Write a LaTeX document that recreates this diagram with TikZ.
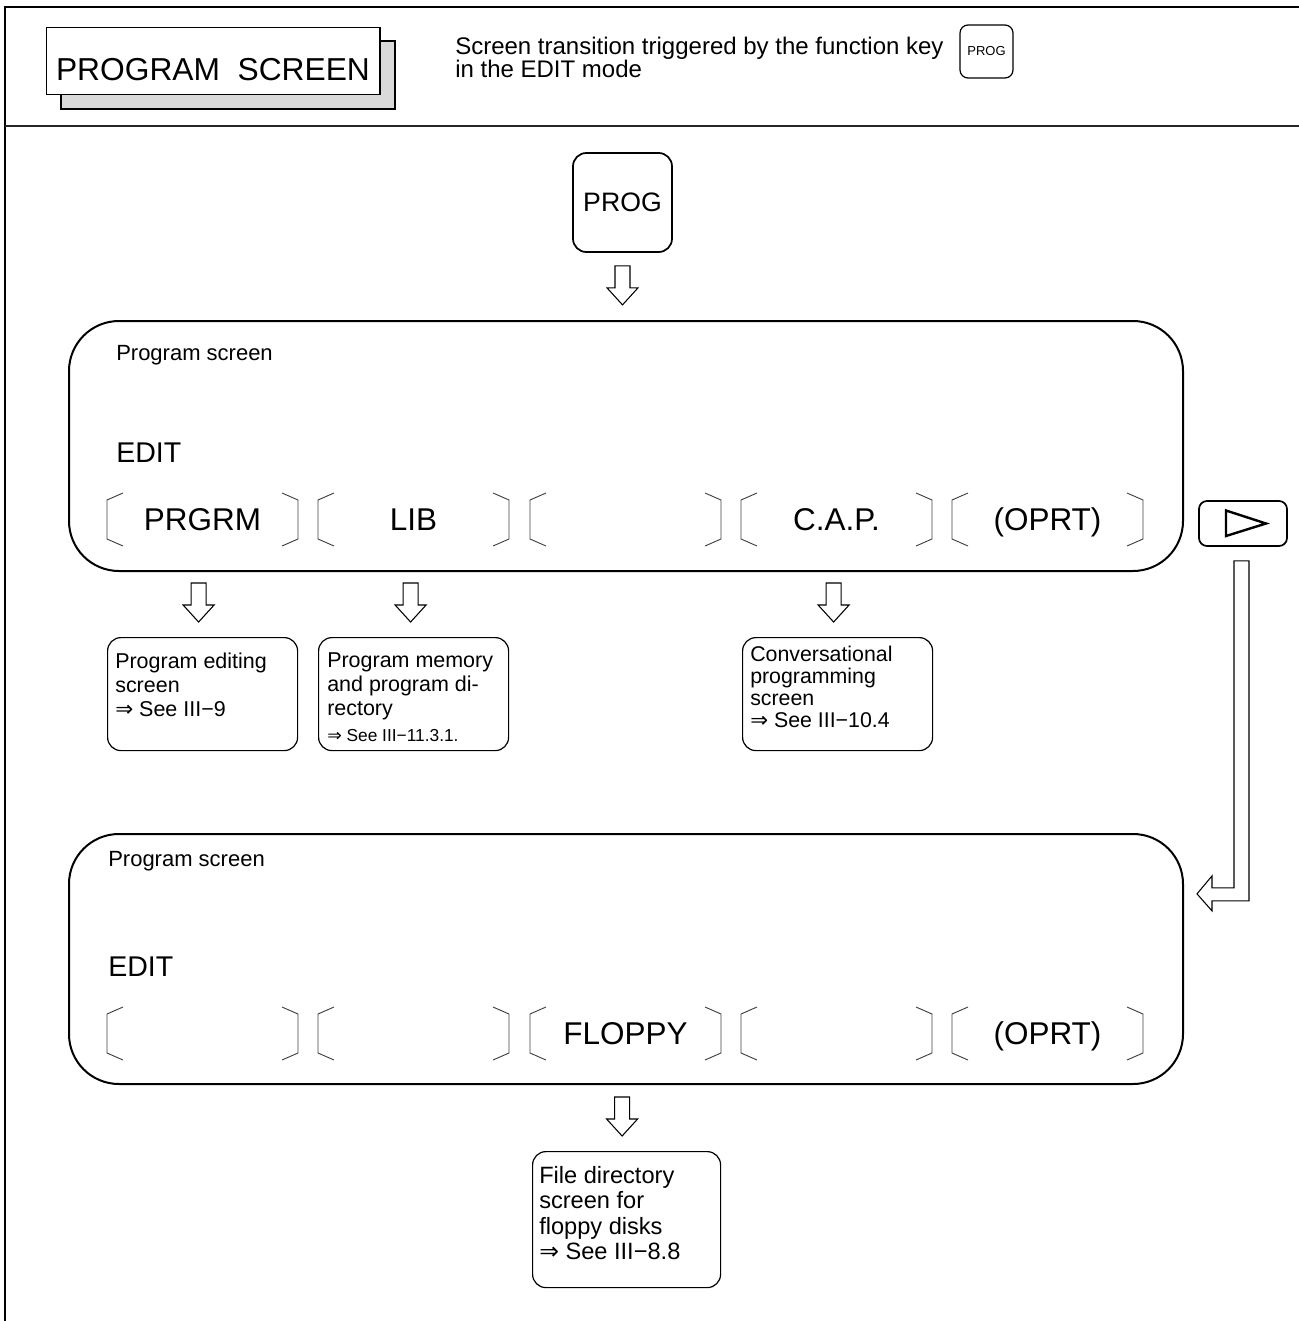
\documentclass[tikz,border=0pt]{standalone}
\usepackage{fontspec}
\setmainfont{Liberation Sans}
\newfontfamily\symfont{DejaVu Sans}
\usetikzlibrary{calc}
\newcommand{\fs}[2]{\fontsize{#1}{#2}\selectfont}
\newcommand{\impl}{{\symfont ⇒}}
\newcommand{\softkey}[4]{%
  \draw[bracket] (#2+16,#3) -- (#2,#3+7) -- (#2,#3+46) -- (#2+16,#3+53);
  \draw[bracket] (#2+175,#3) -- (#2+191,#3+7) -- (#2+191,#3+46) -- (#2+175,#3+53);
  \node[keylabel] (#1) at (#2+95.5,#3+37.5) {#4};}
\begin{document}
\begin{tikzpicture}[x=0.75pt,y=-0.75pt,
  frameline/.style={line width=1.9pt, black},
  bracket/.style={line width=0.7pt, black!75},
  keylabel/.style={anchor=base, inner sep=0, font=\fs{23.6}{26}},
  screen/.style={draw, line width=1.5pt, rounded corners=37.5pt, minimum width=835.5pt, minimum height=187.5pt, anchor=north west, inner sep=0},
  infobox/.style={draw, line width=0.9pt, rounded corners=10pt, minimum width=142.5pt, minimum height=84.75pt, anchor=north west, inner sep=0},
  tx/.style={anchor=north west, inner sep=0, align=left},
  scrtext/.style={anchor=base west, inner sep=0, font=\fs{16.5}{18}},
  edittext/.style={anchor=base west, inner sep=0, font=\fs{21.4}{24}},
  arrowline/.style={draw, line width=0.8pt, black, fill=white},
  darrow/.pic={\path[arrowline] (-7.5,0) -- (7.5,0) -- (7.5,22) -- (15.5,22) -- (0,39) -- (-15.5,22) -- (-7.5,22) -- cycle;}
]
\useasboundingbox (0,0) rectangle (1299,1321);

% frame
\draw[frameline] (4,7) -- (1299,7);
\draw[frameline] (5,6) -- (5,1321);
\draw[line width=1.4pt, black!85] (5,126) -- (1299,126);

% title
\draw[line width=0.9pt, fill=black!15] (61,41) rectangle (395,109);
\node[draw, fill=white, line width=0.9pt, anchor=north west, minimum width=250pt, minimum height=50.25pt, inner sep=0] (title) at (46,27) {};
\node[anchor=base, inner sep=0, font=\fs{23.8}{26}] (titletext) at (213,80) {PROGRAM\ \ SCREEN};

\node[tx, font=\fs{18}{17.25}] (desc) at (455,37) {Screen transition triggered by the function key\\in the EDIT mode};
\node[draw, line width=0.9pt, rounded corners=6pt, minimum width=39.75pt, minimum height=39.75pt, inner sep=0, font=\fs{9.75}{10}] (pkey) at (986.5,51.5) {PROG};

% PROG key
\node[draw, line width=1.3pt, rounded corners=10pt, minimum width=74.25pt, minimum height=74.25pt, inner sep=0, font=\fs{20}{22}] (prog) at (622.5,202.5) {PROG};

% upper screen
\node[screen] (scr1) at (68,320) {};
\pic at ($(prog.south)+(0,13)$) {darrow};
\node[scrtext] (s1title) at (116,360) {Program screen};
\node[edittext] (s1mode) at (116,462) {EDIT};
\softkey{ka}{107}{493}{PRGRM}
\softkey{kb}{318}{493}{LIB}
\softkey{kc}{530}{493}{}
\softkey{kd}{741}{493}{C.A.P.}
\softkey{ke}{952}{493}{(OPRT)}

% next key
\node[draw, line width=1.3pt, rounded corners=6pt, minimum width=66pt, minimum height=33.75pt, inner sep=0] (nk) at (1243,523.5) {};
\draw[line width=1.8pt, line join=miter] ($(nk.center)+(-17,-13)$) -- ($(nk.center)+(-17,12.5)$) -- ($(nk.center)+(23,0)$) -- cycle;

% info boxes
\node[infobox] (b1) at (107,637) {};
\node[infobox] (b2) at (318,637) {};
\node[infobox] (b3) at (742,637) {};
\pic at ($(b1.north)+(-4,-54)$) {darrow};
\pic at ($(b2.north)+(-3,-54)$) {darrow};
\pic at ($(b3.north)+(-4,-54)$) {darrow};

\node[tx, font=\fs{16.1}{18}] (t1) at (115,652.3) {Program editing\\screen\\\impl{} See III−9};
\node[tx, font=\fs{16.1}{18}] (t2) at (327,652.3) {Program memory\\and program di-\\rectory\\[1.5pt]{\fs{13}{18}\impl{} See III−11.3.1.}};
\node[tx, font=\fs{16}{16.5}] (t3) at (750,645.6) {Conversational\\programming\\screen\\\impl{} See III−10.4};

% L-shaped arrow
\coordinate (lt) at ($(nk.south)+(-9,14)$);
\path[arrowline] (lt) -- ++(15,0) -- ++(0,340) -- ++(-37,0) -- ++(0,10) -- ++(-15,-17) -- ++(15,-18) -- ++(0,12) -- ++(22,0) -- cycle;

% lower screen
\node[screen] (scr2) at (68,833) {};
\node[scrtext] (s2title) at (108,866) {Program screen};
\node[edittext] (s2mode) at (108,976) {EDIT};
\softkey{la}{107}{1007}{}
\softkey{lb}{318}{1007}{}
\softkey{lc}{530}{1007}{FLOPPY}
\softkey{ld}{741}{1007}{}
\softkey{le}{952}{1007}{(OPRT)}

\node[infobox, minimum width=141pt, minimum height=102pt] (b4) at (532,1151) {};
\pic at ($(b4.north)+(-4.5,-54)$) {darrow};
\node[tx, font=\fs{17.7}{19}] (t4) at (539,1166) {File directory\\screen for\\floppy disks\\\impl{} See III−8.8};
\end{tikzpicture}
\end{document}
